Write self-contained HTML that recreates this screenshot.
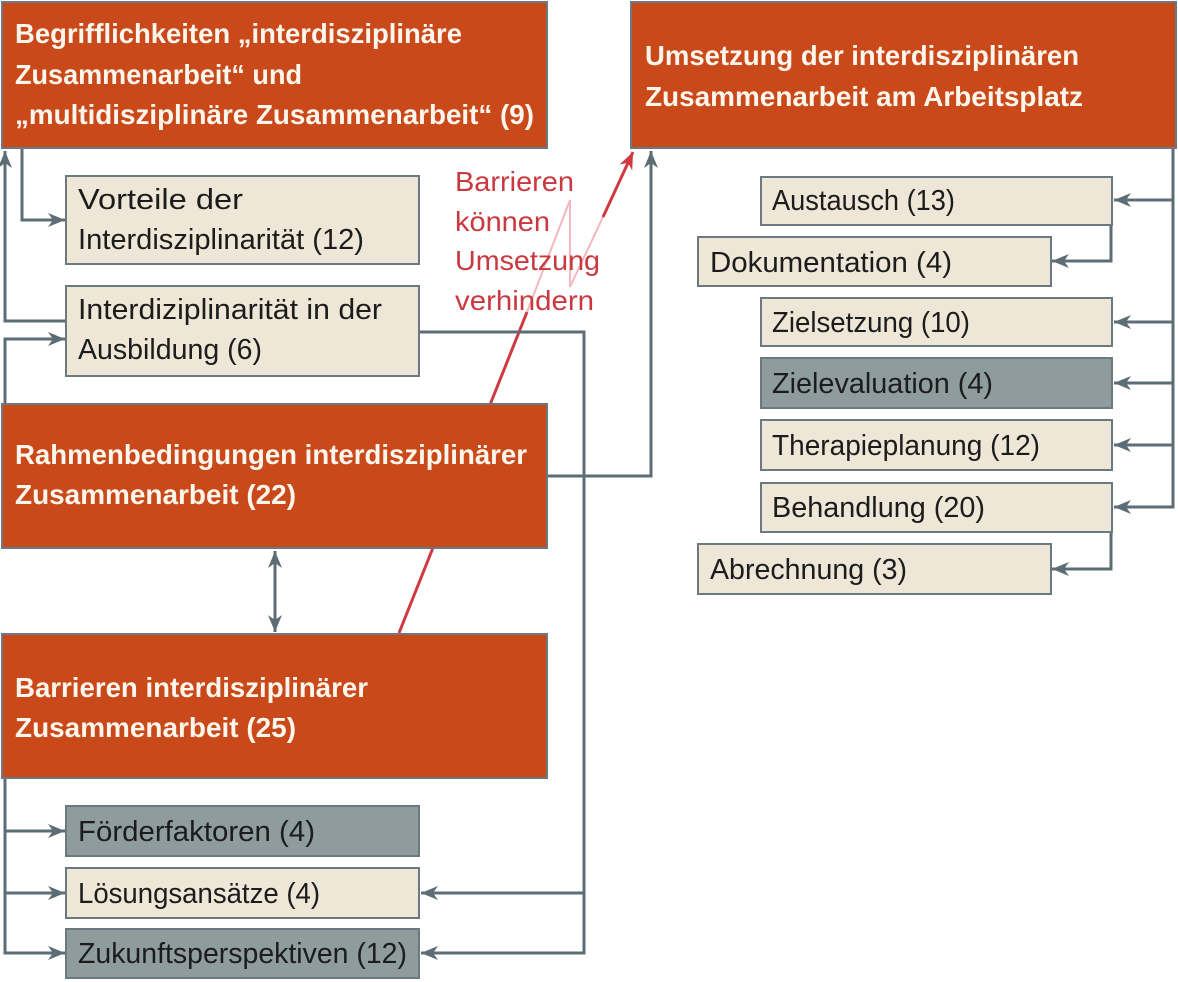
<!DOCTYPE html>
<html><head><meta charset="utf-8"><style>
html,body{margin:0;padding:0;background:#fff;}
svg{display:block;}
.ow{font-family:"Liberation Sans",sans-serif;font-weight:bold;font-size:28px;fill:#FDF6EC;}
.bt{font-family:"Liberation Sans",sans-serif;font-size:29px;fill:#1c1c1c;}
.rt{font-family:"Liberation Sans",sans-serif;font-size:28px;fill:#C9393F;}
</style></head><body>
<svg width="1178" height="982" viewBox="0 0 1178 982" xmlns="http://www.w3.org/2000/svg">
<defs>
<marker id="a" markerUnits="userSpaceOnUse" markerWidth="18" markerHeight="14" refX="17" refY="7" orient="auto-start-reverse"><path d="M0,0 L17,7 L0,14 L5,7 z" fill="#5C6D75"/></marker>
<marker id="r" markerUnits="userSpaceOnUse" markerWidth="18" markerHeight="14" refX="17" refY="7" orient="auto"><path d="M0,0 L17,7 L0,14 L5,7 z" fill="#CF3A40"/></marker>
</defs>

<!-- red "barrier" arrow (behind boxes) -->
<path d="M399,633 L527,312" stroke="#CF3A40" stroke-width="3" fill="none"/>
<path d="M527,312 L570,200 L570,287 L603,217" stroke="#F2B8BD" stroke-width="2" fill="none"/>
<path d="M603,217 L633,152" stroke="#CF3A40" stroke-width="3" fill="none" marker-end="url(#r)"/>

<g stroke="#5C6D75" stroke-width="3" fill="none">
<path d="M22,149 V220 H65" marker-end="url(#a)"/>
<path d="M65,321 H5 V151" marker-end="url(#a)"/>
<path d="M5,404 V339 H65" marker-end="url(#a)"/>
<path d="M419,332 H584 V953 H421" marker-end="url(#a)"/>
<path d="M584,893 H421" marker-end="url(#a)"/>
<path d="M547,476 H651 V151" marker-end="url(#a)"/>
<path d="M275,551 V632" marker-start="url(#a)" marker-end="url(#a)"/>
<path d="M5,779 V953 H65" marker-end="url(#a)"/>
<path d="M5,831 H65" marker-end="url(#a)"/>
<path d="M5,893 H65" marker-end="url(#a)"/>
<path d="M1173,149 V507 H1114" marker-end="url(#a)"/>
<path d="M1173,200 H1114" marker-end="url(#a)"/>
<path d="M1173,322 H1114" marker-end="url(#a)"/>
<path d="M1173,383 H1114" marker-end="url(#a)"/>
<path d="M1173,445 H1114" marker-end="url(#a)"/>
<path d="M1111,225 V261 H1052" marker-end="url(#a)"/>
<path d="M1111,533 V569 H1052" marker-end="url(#a)"/>
</g>

<!-- orange boxes -->
<g fill="#C9491A" stroke="#6A7A80" stroke-width="2">
<rect x="2" y="2" width="545" height="146"/>
<rect x="631" y="2" width="545" height="146"/>
<rect x="2" y="404" width="545" height="144"/>
<rect x="2" y="634" width="545" height="144"/>
</g>
<!-- beige boxes -->
<g fill="#EEE6D6" stroke="#6A7A80" stroke-width="2">
<rect x="66" y="176" width="353" height="88"/>
<rect x="66" y="286" width="353" height="90"/>
<rect x="66" y="868" width="353" height="50"/>
<rect x="761" y="177" width="351" height="48"/>
<rect x="698" y="237" width="353" height="49"/>
<rect x="761" y="298" width="351" height="48"/>
<rect x="761" y="420" width="351" height="50"/>
<rect x="761" y="483" width="351" height="49"/>
<rect x="698" y="544" width="353" height="50"/>
</g>
<!-- grey boxes -->
<g fill="#8E9C9E" stroke="#6A7A80" stroke-width="2">
<rect x="66" y="806" width="353" height="50"/>
<rect x="66" y="929" width="353" height="49"/>
<rect x="761" y="358" width="351" height="50"/>
</g>

<!-- orange box text -->
<text class="ow" x="15" y="43" textLength="447" lengthAdjust="spacingAndGlyphs">Begrifflichkeiten „interdisziplinäre</text>
<text class="ow" x="15" y="84" textLength="287" lengthAdjust="spacingAndGlyphs">Zusammenarbeit“ und</text>
<text class="ow" x="15" y="124" textLength="519" lengthAdjust="spacingAndGlyphs">„multidisziplinäre Zusammenarbeit“ (9)</text>

<text class="ow" x="645" y="65" textLength="434" lengthAdjust="spacingAndGlyphs">Umsetzung der interdisziplinären</text>
<text class="ow" x="645" y="106" textLength="438" lengthAdjust="spacingAndGlyphs">Zusammenarbeit am Arbeitsplatz</text>

<text class="ow" x="15" y="464" textLength="512" lengthAdjust="spacingAndGlyphs">Rahmenbedingungen interdisziplinärer</text>
<text class="ow" x="15" y="504" textLength="281" lengthAdjust="spacingAndGlyphs">Zusammenarbeit (22)</text>

<text class="ow" x="15" y="697" textLength="353" lengthAdjust="spacingAndGlyphs">Barrieren interdisziplinärer</text>
<text class="ow" x="15" y="737" textLength="281" lengthAdjust="spacingAndGlyphs">Zusammenarbeit (25)</text>

<!-- small box text -->
<text class="bt" x="78" y="209" textLength="165" lengthAdjust="spacingAndGlyphs">Vorteile der</text>
<text class="bt" x="78" y="249" textLength="286" lengthAdjust="spacingAndGlyphs">Interdisziplinarität (12)</text>
<text class="bt" x="78" y="319" textLength="304" lengthAdjust="spacingAndGlyphs">Interdiziplinarität in der</text>
<text class="bt" x="78" y="359" textLength="184" lengthAdjust="spacingAndGlyphs">Ausbildung (6)</text>
<text class="bt" x="78" y="841" textLength="237" lengthAdjust="spacingAndGlyphs">Förderfaktoren (4)</text>
<text class="bt" x="78" y="903" textLength="242" lengthAdjust="spacingAndGlyphs">Lösungsansätze (4)</text>
<text class="bt" x="78" y="963" textLength="329" lengthAdjust="spacingAndGlyphs">Zukunftsperspektiven (12)</text>

<text class="bt" x="772" y="210" textLength="183" lengthAdjust="spacingAndGlyphs">Austausch (13)</text>
<text class="bt" x="710" y="272" textLength="242" lengthAdjust="spacingAndGlyphs">Dokumentation (4)</text>
<text class="bt" x="772" y="332" textLength="198" lengthAdjust="spacingAndGlyphs">Zielsetzung (10)</text>
<text class="bt" x="772" y="393" textLength="221" lengthAdjust="spacingAndGlyphs">Zielevaluation (4)</text>
<text class="bt" x="772" y="455" textLength="268" lengthAdjust="spacingAndGlyphs">Therapieplanung (12)</text>
<text class="bt" x="772" y="517" textLength="213" lengthAdjust="spacingAndGlyphs">Behandlung (20)</text>
<text class="bt" x="710" y="579" textLength="197" lengthAdjust="spacingAndGlyphs">Abrechnung (3)</text>

<!-- red label -->
<text class="rt" x="455" y="191" textLength="119" lengthAdjust="spacingAndGlyphs">Barrieren</text>
<text class="rt" x="455" y="231" textLength="95" lengthAdjust="spacingAndGlyphs">können</text>
<text class="rt" x="455" y="270" textLength="145" lengthAdjust="spacingAndGlyphs">Umsetzung</text>
<text class="rt" x="455" y="310" textLength="139" lengthAdjust="spacingAndGlyphs">verhindern</text>
</svg>
</body></html>
